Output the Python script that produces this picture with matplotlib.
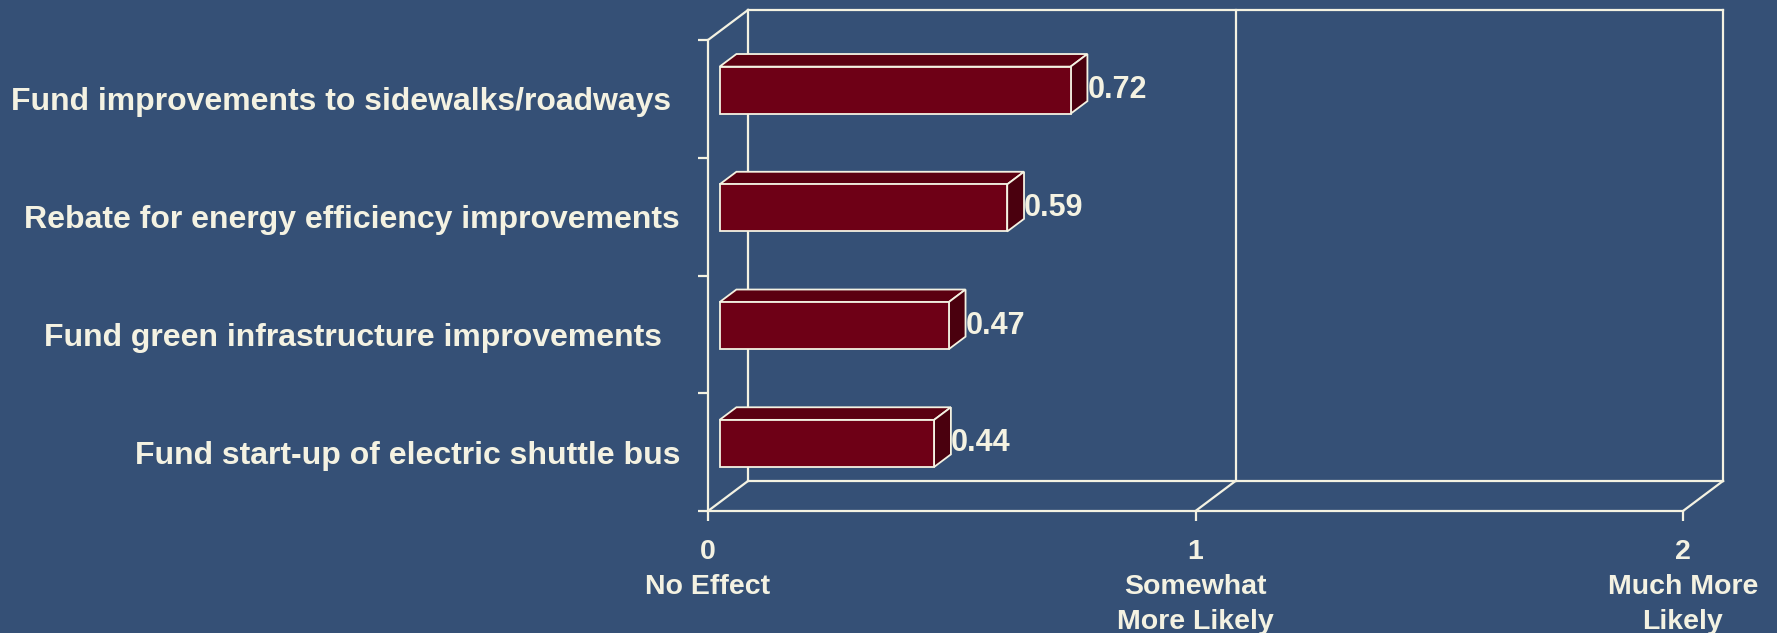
import matplotlib.pyplot as plt
from matplotlib.patches import Polygon

# data
labels = ["Fund improvements to sidewalks/roadways ",
          "Rebate for energy efficiency improvements",
          "Fund green infrastructure improvements  ",
          "Fund start-up of electric shuttle bus"]
values = [0.72, 0.59, 0.47, 0.44]
x_ticks = [0, 1, 2]
x_tick_labels = ["0\nNo Effect", "1\nSomewhat\nMore Likely", "2\nMuch More\nLikely"]

BG = "#355076"
INK = "#F4F2E2"
FRONT = "#6E0016"
TOP = "#5B0011"
SIDE = "#4A000E"

# fake 3d depth, in data units for one full depth of the box
DX = 40 / 975 * 2
DY = 30 / 471 * 4
BAR_D0, BAR_D1 = 0.29, 0.71
BAR_H = 0.2


def p(v, c, d):
    return (v + d * DX, c + d * DY)


plt.rcParams['font.family'] = ['Liberation Sans', 'DejaVu Sans']
plt.rcParams['font.weight'] = 'bold'

fig = plt.figure(figsize=(17.77, 6.33), dpi=100, facecolor=BG)
ax = fig.add_axes([708 / 1777, 122 / 633, 975 / 1777, 471 / 633])
ax.patch.set_visible(False)

n = len(labels)
xmax = x_ticks[-1]
ax.set_xlim(0, xmax)
ax.set_ylim(0, n)

for s in ['top', 'right']:
    ax.spines[s].set_visible(False)
for s in ['left', 'bottom']:
    ax.spines[s].set_color(INK)
    ax.spines[s].set_linewidth(1.6)

ax.set_xticks(x_ticks)
ax.set_xticklabels(x_tick_labels, color=INK, fontsize=20.5, fontweight='bold', linespacing=1.45)
ax.tick_params(axis='x', direction='out', length=7, width=1.6, color=INK, pad=13)

centers = [n - 0.5 - i for i in range(n)]
ax.set_yticks(range(n + 1))
ax.set_yticklabels([])
ax.tick_params(axis='y', which='major', direction='out', length=7, width=1.6, color=INK)
ax.set_yticks(centers, minor=True)
ax.set_yticklabels(labels, minor=True, color=INK, fontsize=23, fontweight='bold')
ax.tick_params(axis='y', which='minor', length=0, pad=20)

# back wall and floor
line_kw = dict(color=INK, lw=1.6, clip_on=False, zorder=1, solid_capstyle='projecting')
for t in x_ticks:
    ax.plot(*zip(p(t, 0, 1), p(t, n, 1)), **line_kw)
    ax.plot(*zip(p(t, 0, 0), p(t, 0, 1)), **line_kw)
ax.plot(*zip(p(0, n, 1), p(xmax, n, 1)), **line_kw)
ax.plot(*zip(p(0, 0, 1), p(xmax, 0, 1)), **line_kw)
ax.plot(*zip(p(0, n, 0), p(0, n, 1)), **line_kw)

# bars
for c, v in zip(centers, values):
    lo, hi = c - BAR_H, c + BAR_H
    faces = [
        ([p(0, hi, BAR_D0), p(v, hi, BAR_D0), p(v, hi, BAR_D1), p(0, hi, BAR_D1)], TOP),
        ([p(v, lo, BAR_D0), p(v, lo, BAR_D1), p(v, hi, BAR_D1), p(v, hi, BAR_D0)], SIDE),
        ([p(0, lo, BAR_D0), p(v, lo, BAR_D0), p(v, hi, BAR_D0), p(0, hi, BAR_D0)], FRONT),
    ]
    for pts, col in faces:
        ax.add_patch(Polygon(pts, closed=True, facecolor=col, edgecolor=INK,
                             lw=1.3, joinstyle='miter', clip_on=False, zorder=3))
    lx = p(v, c, BAR_D1)[0]
    ly = p(v, c, BAR_D0)[1]
    ax.text(lx, ly, f"{v:.2f}", color=INK, fontsize=22, fontweight='bold',
            ha='left', va='center', zorder=4)

fig.savefig("out.png", dpi=100, facecolor=BG)
